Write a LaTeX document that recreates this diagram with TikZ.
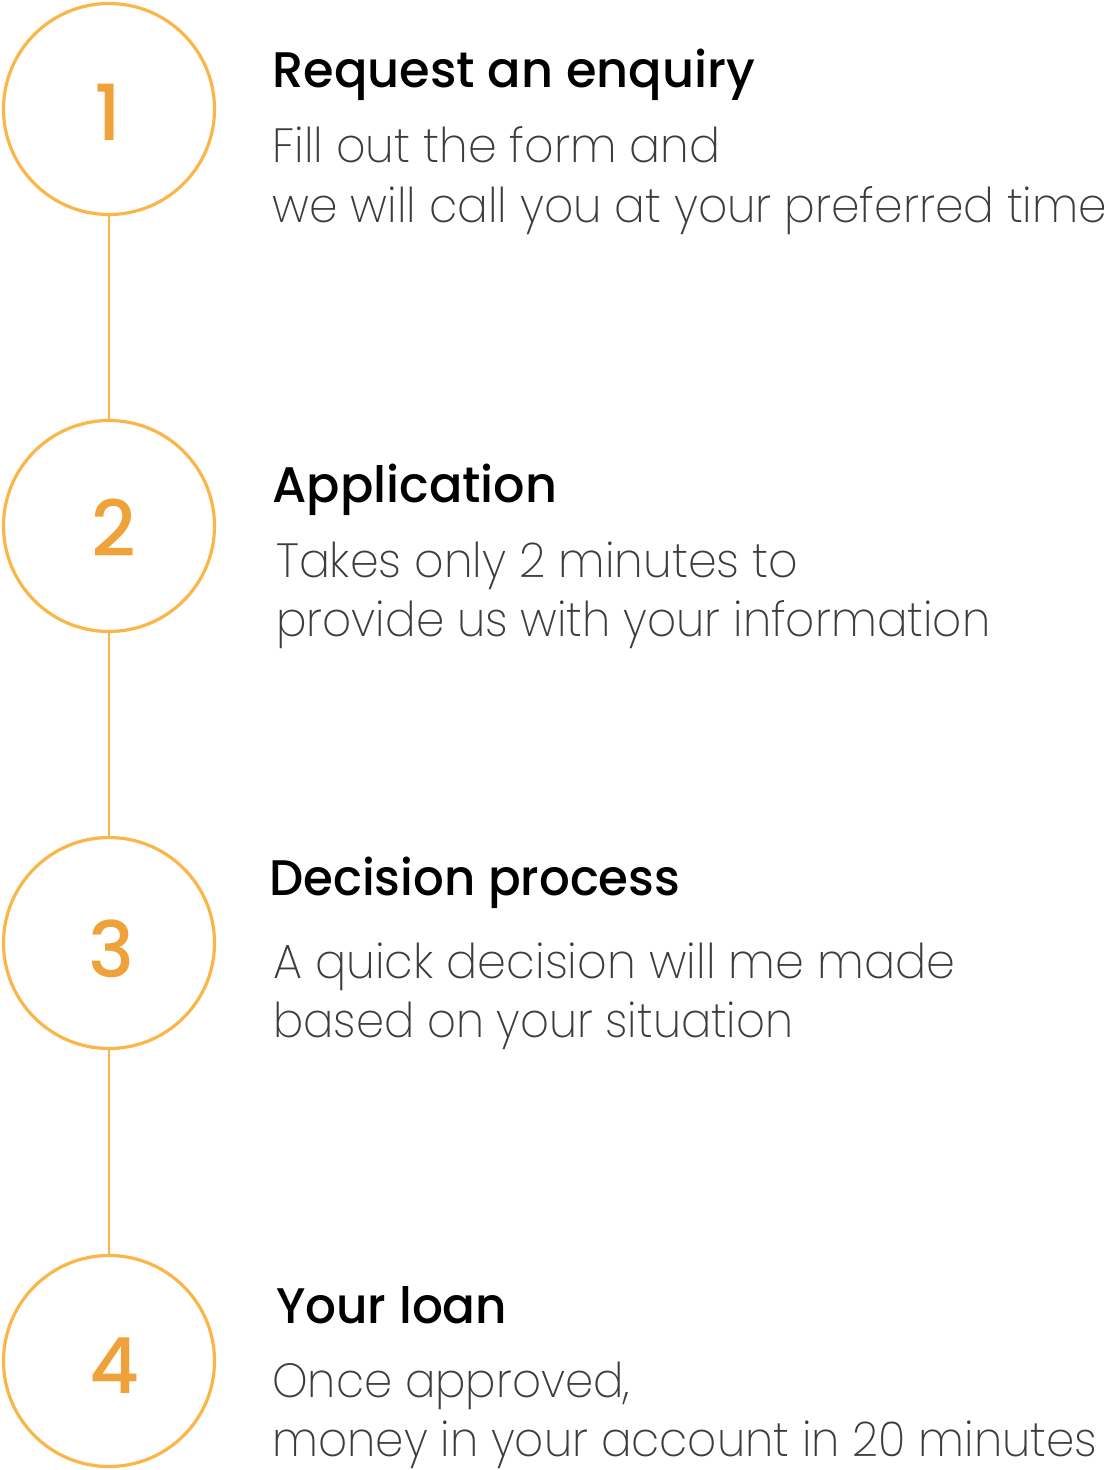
\documentclass[tikz,border=0pt]{standalone}
\usepackage{fontspec}
\usepackage{graphicx}
\newfontfamily\headfont{Poppins}[UprightFont=* Medium]
\newfontfamily\bodyfont{Poppins}[UprightFont=* ExtraLight]
\definecolor{ring}{RGB}{250,182,72}
\definecolor{digit}{RGB}{240,162,58}
\definecolor{bodygray}{RGB}{60,60,60}
\newsavebox\fitbox
\newcommand\fitw[2]{\sbox\fitbox{#2}\pgfmathsetmacro\fitr{#1*0.75/\wd\fitbox}\scalebox{\fitr}[1]{\usebox\fitbox}}
\begin{document}
\begin{tikzpicture}[x=0.75pt,y=-0.75pt,
  ringnode/.style={circle,draw=ring,line width=2.4pt,minimum size=211*0.75pt,inner sep=0pt},
  digitnode/.style={anchor=base,inner sep=0pt,text=digit,font=\headfont\fontsize{58}{58}\selectfont},
  headnode/.style={anchor=base west,inner sep=0pt,text=black,font=\headfont\fontsize{37.5}{40}\selectfont},
  bodynode/.style={anchor=base west,inner sep=0pt,text=bodygray,font=\bodyfont\fontsize{36}{40}\selectfont},
  link/.style={draw=ring,line width=2.2pt}]
\useasboundingbox (0,0) rectangle (1109,1470);
% circles
\node[ringnode] (c1) at (109,109) {};
\node[ringnode] (c2) at (109,526) {};
\node[ringnode] (c3) at (109,943) {};
\node[ringnode] (c4) at (109,1361) {};
\node[digitnode] (d1) at (108,140) {1};
\node[digitnode] (d2) at (114,556) {2};
\node[digitnode] (d3) at (111,977) {3};
\node[digitnode] (d4) at (115,1393) {4};
\draw[link] (c1.south) -- (c2.north);
\draw[link] (c2.south) -- (c3.north);
\draw[link] (c3.south) -- (c4.north);
% step 1
\node[headnode] (h1) at (272,88) {\fitw{483}{Request an enquiry}};
\node[bodynode] (b1a) at (272,162) {\fitw{448}{Fill out the form and}};
\node[bodynode] (b1b) at (272,222) {\fitw{835}{we will call you at your preferred time}};
% step 2
\node[headnode] (h2) at (272,502) {\fitw{285}{Application}};
\node[bodynode] (b2a) at (276,577) {\fitw{522}{Takes only 2 minutes to}};
\node[bodynode] (b2b) at (276,636) {\fitw{714}{provide us with your information}};
% step 3
\node[headnode] (h3) at (269,895) {\fitw{411}{Decision process}};
\node[bodynode] (b3a) at (273,978) {\fitw{682}{A quick decision will me made}};
\node[bodynode] (b3b) at (273,1037) {\fitw{520}{based on your situation}};
% step 4
\node[headnode] (h4) at (276,1323) {\fitw{231}{Your loan}};
\node[bodynode] (b4a) at (272,1397) {\fitw{358}{Once approved,}};
\node[bodynode] (b4b) at (272,1456) {\fitw{825}{money in your account in 20 minutes}};
\end{tikzpicture}
\end{document}
